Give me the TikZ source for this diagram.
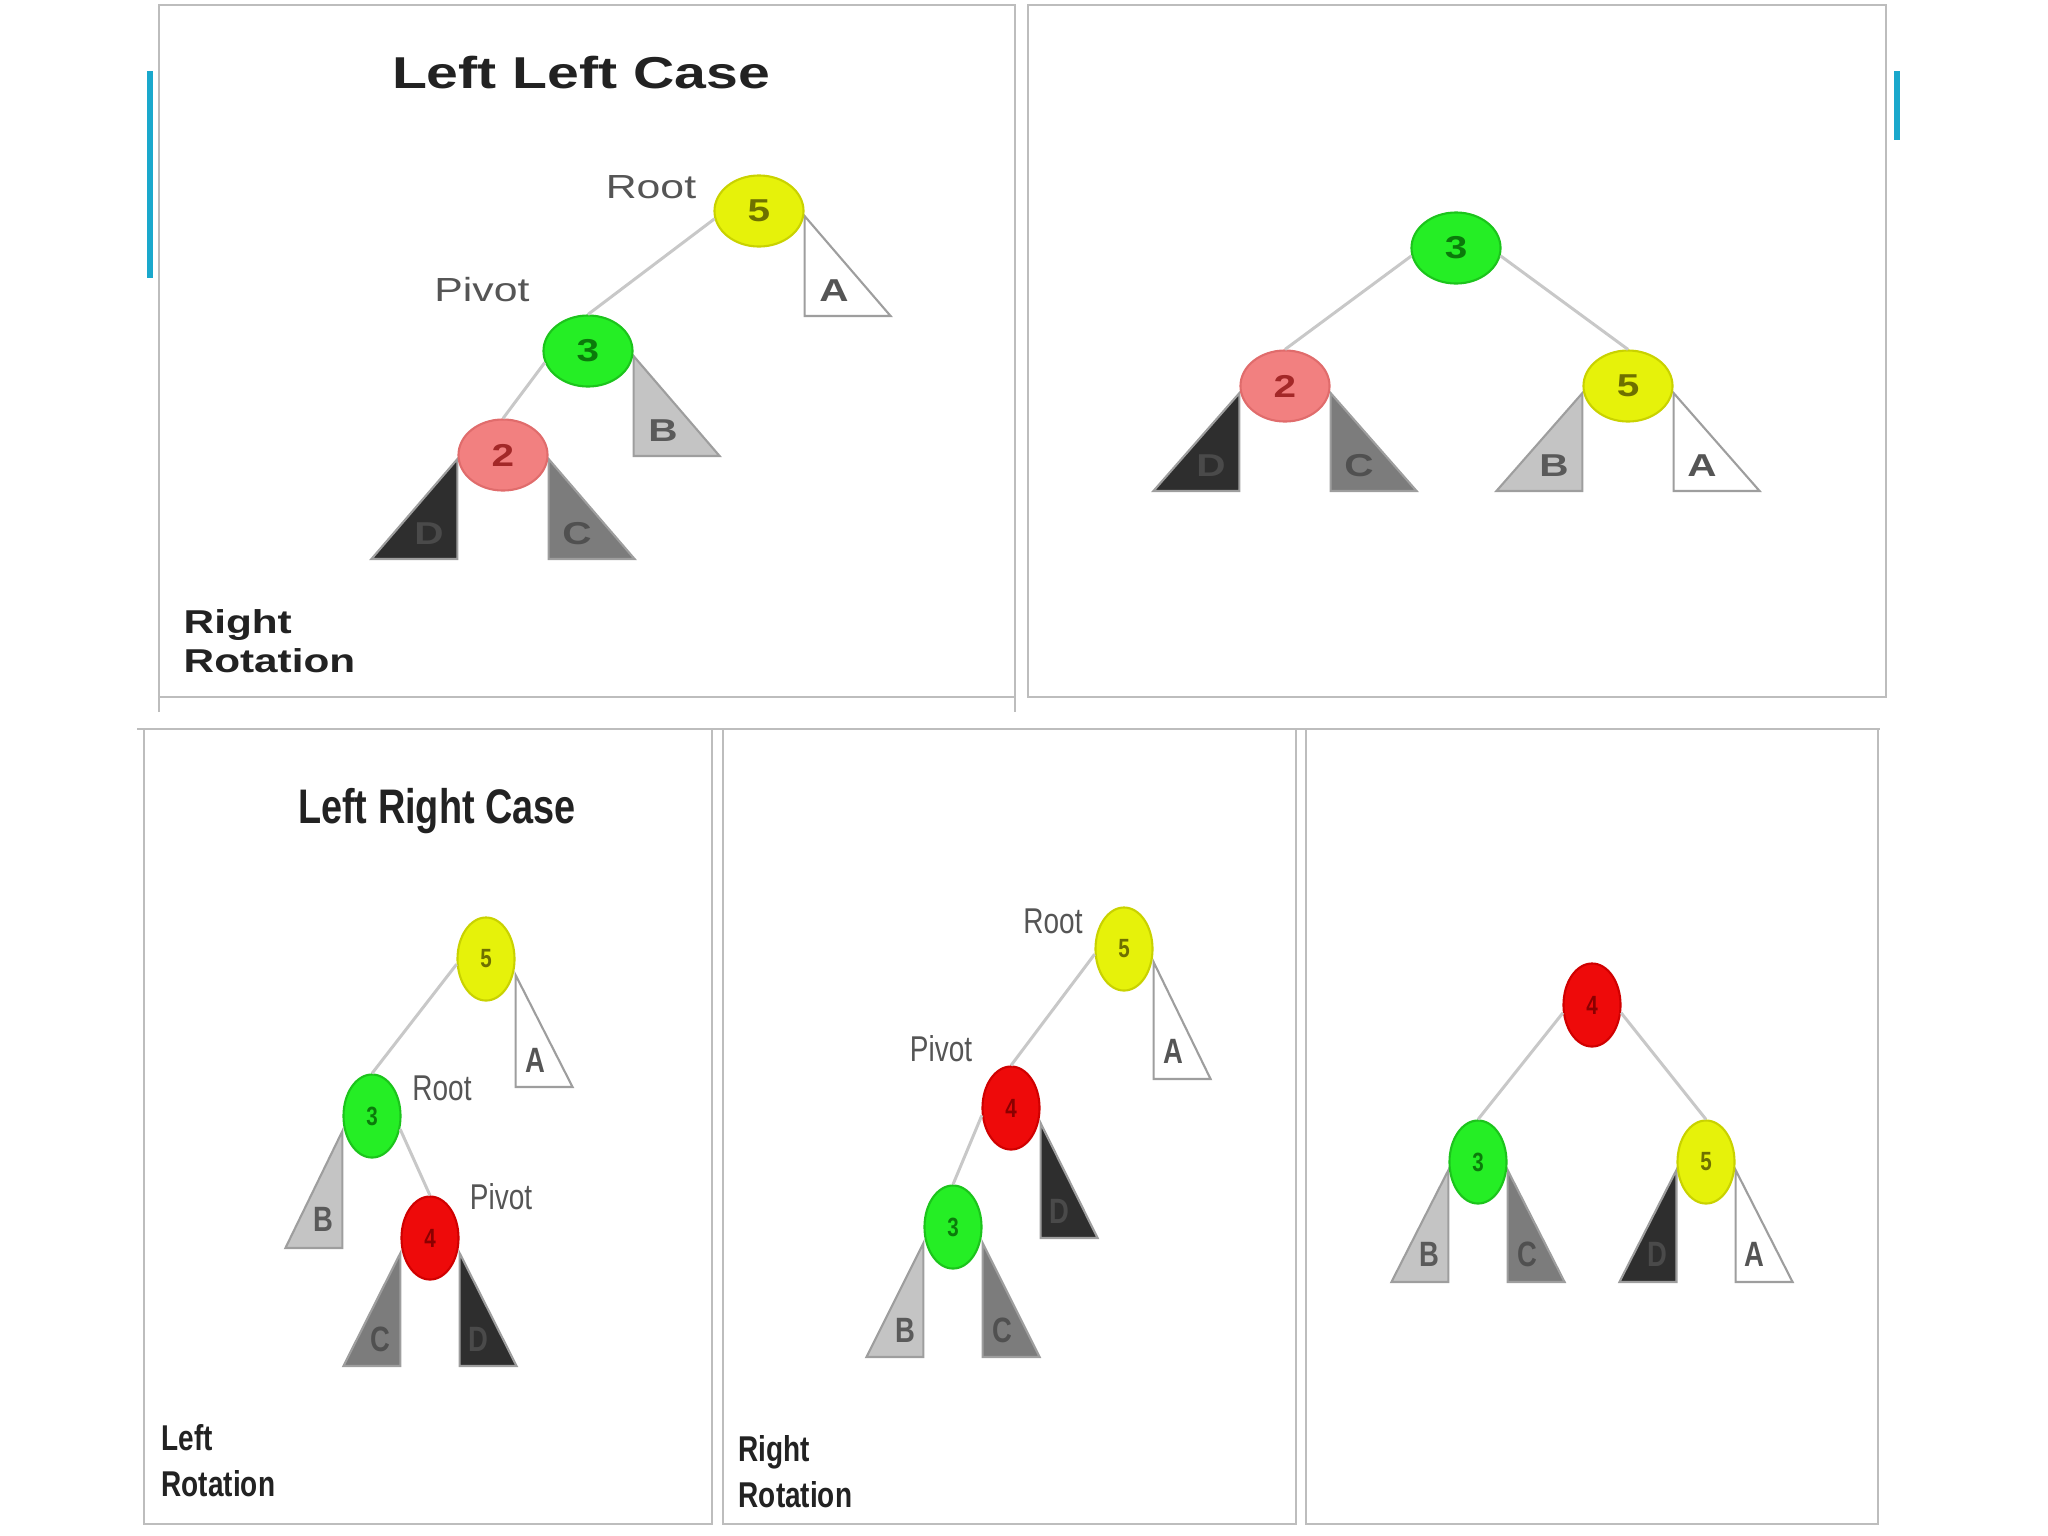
\documentclass[tikz,border=0pt]{standalone}
\usepackage{fontspec}
\setmainfont{Liberation Sans}
\newfontfamily\topsans[FakeStretch=1.28]{Liberation Sans}
\newfontfamily\botsans[FakeStretch=0.78]{Liberation Sans}
\usetikzlibrary{shapes.geometric,backgrounds}
\definecolor{ink}{HTML}{222222}
\definecolor{word}{HTML}{555555}
\definecolor{rim}{HTML}{BDBDBD}
\definecolor{slide}{HTML}{1AA8CC}
\definecolor{edgegray}{HTML}{C8C8C8}
\definecolor{nodeyel}{HTML}{E6F20A}
\definecolor{nodeyelb}{HTML}{C9D200}
\definecolor{nodeyelt}{HTML}{6E7000}
\definecolor{nodegrn}{HTML}{25EE25}
\definecolor{nodegrnb}{HTML}{1CC41C}
\definecolor{nodegrnt}{HTML}{0B7A0B}
\definecolor{nodepnk}{HTML}{F28080}
\definecolor{nodepnkb}{HTML}{E06C6C}
\definecolor{nodepnkt}{HTML}{A32828}
\definecolor{nodered}{HTML}{EE0A0A}
\definecolor{noderedb}{HTML}{D00000}
\definecolor{noderedt}{HTML}{8A0000}
\definecolor{subD}{HTML}{2E2E2E}
\definecolor{subC}{HTML}{7C7C7C}
\definecolor{subB}{HTML}{C4C4C4}
\definecolor{subrim}{HTML}{9E9E9E}
\definecolor{letD}{HTML}{4A4A4A}
\definecolor{letC}{HTML}{505050}
\definecolor{letB}{HTML}{5A5A5A}
\definecolor{letA}{HTML}{555555}

\begin{document}
\begin{tikzpicture}[x=0.01cm,y=-0.01cm,
    panel/.style={draw=rim,line width=0.8pt},
    rail/.style={draw=slide,line width=1.7pt},
    tnode/.style={ellipse,minimum width=0.89cm,minimum height=0.71cm,inner sep=0pt,line width=0.6pt,font=\topsans\bfseries\fontsize{9}{9}\selectfont},
    bnode/.style={ellipse,minimum width=0.57cm,minimum height=0.83cm,inner sep=0pt,line width=0.6pt,font=\botsans\bfseries\fontsize{7.5}{8}\selectfont},
    five/.style={fill=nodeyel,draw=nodeyelb,text=nodeyelt},
    three/.style={fill=nodegrn,draw=nodegrnb,text=nodegrnt},
    two/.style={fill=nodepnk,draw=nodepnkb,text=nodepnkt},
    four/.style={fill=nodered,draw=noderedb,text=noderedt},
    link/.style={draw=edgegray,line width=0.85pt},
    sub/.style={draw=subrim,line width=0.6pt},
    tlet/.style={inner sep=0pt,font=\topsans\bfseries\fontsize{9}{9}\selectfont},
    blet/.style={inner sep=0pt,font=\botsans\bfseries\fontsize{10}{10}\selectfont},
    ttag/.style={inner sep=0pt,text=word,font=\topsans\fontsize{9.5}{11}\selectfont},
    btag/.style={inner sep=0pt,text=word,font=\botsans\fontsize{10.2}{12}\selectfont},
    ttitle/.style={inner sep=0pt,text=ink,font=\topsans\bfseries\fontsize{12.7}{15}\selectfont},
    btitle/.style={inner sep=0pt,text=ink,font=\botsans\bfseries\fontsize{13.8}{16}\selectfont},
    trot/.style={inner sep=0pt,anchor=west,align=left,text=ink,font=\topsans\bfseries\fontsize{9.4}{11.1}\selectfont},
    brot/.style={inner sep=0pt,anchor=west,align=left,text=ink,font=\botsans\bfseries\fontsize{10.2}{13}\selectfont}]
  \useasboundingbox (0,0) rectangle (2048,1536);

  % frames
  \draw[panel] (159,712) -- (159,5) -- (1015,5) -- (1015,712) (159,697) -- (1015,697);
  \draw[panel] (1028,5) rectangle (1886,697);
  \draw[panel] (137,729) -- (1880,729);
  \draw[panel] (144,729) rectangle (712,1524);
  \draw[panel] (723,729) rectangle (1296,1524);
  \draw[panel] (1306,729) rectangle (1878,1524);
  \draw[rail] (150,71) -- (150,278);
  \draw[rail] (1897,71) -- (1897,140);

  % Left Left Case
  \node[ttitle] (aTitle) at (581,73) {Left Left Case};
  \node[tnode,five] (a5) at (759,211) {5};
  \node[tnode,three] (a3) at (588,351) {3};
  \node[tnode,two] (a2) at (503,455) {2};
  \node[ttag] (aRoot) at (651,187) {Root};
  \node[ttag] (aPivot) at (482,290) {Pivot};
  \draw[link] (a5.190) -- (a3.north);
  \draw[link] (a3.195) -- (a2.north);
  \begin{scope}[on background layer]
    \draw[sub,fill=white] (a5.east) ++(0,5) -- ++(0,100) -- ++(86,0) -- cycle;
    \draw[sub,fill=subB] (a3.east) ++(0,5) -- ++(0,100) -- ++(86,0) -- cycle;
    \draw[sub,fill=subD] (a2.west) ++(0,4) -- ++(0,100) -- ++(-86,0) -- cycle;
    \draw[sub,fill=subC] (a2.east) ++(0,4) -- ++(0,100) -- ++(86,0) -- cycle;
  \end{scope}
  \node[tlet,text=letA] (aA) at (834,291) {A};
  \node[tlet,text=letB] (aB) at (663,431) {B};
  \node[tlet,text=letD] (aD) at (429,534) {D};
  \node[tlet,text=letC] (aC) at (577,534) {C};
  \node[trot] (aRot) at (183,641) {Right\\Rotation};

  % after right rotation
  \node[tnode,three] (b3) at (1456,248) {3};
  \node[tnode,two] (b2) at (1285,386) {2};
  \node[tnode,five] (b5) at (1628,386) {5};
  \draw[link] (b3.190) -- (b2.north);
  \draw[link] (b3.350) -- (b5.north);
  \begin{scope}[on background layer]
    \draw[sub,fill=subD] (b2.west) ++(0,7) -- ++(0,98) -- ++(-86,0) -- cycle;
    \draw[sub,fill=subC] (b2.east) ++(0,7) -- ++(0,98) -- ++(86,0) -- cycle;
    \draw[sub,fill=subB] (b5.west) ++(0,7) -- ++(0,98) -- ++(-86,0) -- cycle;
    \draw[sub,fill=white] (b5.east) ++(0,7) -- ++(0,98) -- ++(86,0) -- cycle;
  \end{scope}
  \node[tlet,text=letD] (bD) at (1211,466) {D};
  \node[tlet,text=letC] (bC) at (1359,466) {C};
  \node[tlet,text=letB] (bB) at (1554,466) {B};
  \node[tlet,text=letA] (bA) at (1702,466) {A};

  % Left Right Case
  \node[btitle] (cTitle) at (437,811) {Left Right Case};
  \node[bnode,five] (c5) at (486,959) {5};
  \node[bnode,three] (c3) at (372,1116) {3};
  \node[bnode,four] (c4) at (430,1238) {4};
  \node[btag] (cRoot) at (442,1088) {Root};
  \node[btag] (cPivot) at (501,1197) {Pivot};
  \draw[link] (c5.190) -- (c3.north);
  \draw[link] (c3.335) -- (c4.north);
  \begin{scope}[on background layer]
    \draw[sub,fill=white] (c5.east) ++(0,16) -- ++(0,112) -- ++(57,0) -- cycle;
    \draw[sub,fill=subB] (c3.west) ++(0,15) -- ++(0,117) -- ++(-57,0) -- cycle;
    \draw[sub,fill=subC] (c4.west) ++(0,15) -- ++(0,113) -- ++(-57,0) -- cycle;
    \draw[sub,fill=subD] (c4.east) ++(0,15) -- ++(0,113) -- ++(57,0) -- cycle;
  \end{scope}
  \node[blet,text=letA] (cA) at (535,1060) {A};
  \node[blet,text=letB] (cB) at (323,1219) {B};
  \node[blet,text=letC] (cC) at (380,1339) {C};
  \node[blet,text=letD] (cD) at (478,1339) {D};
  \node[brot] (cRot) at (161,1461) {Left\\Rotation};

  % after left rotation
  \node[bnode,five] (d5) at (1124,949) {5};
  \node[bnode,four] (d4) at (1011,1108) {4};
  \node[bnode,three] (d3) at (953,1227) {3};
  \node[btag] (dRoot) at (1053,921) {Root};
  \node[btag] (dPivot) at (941,1049) {Pivot};
  \draw[link] (d5.190) -- (d4.north);
  \draw[link] (d4.194) -- (d3.north);
  \begin{scope}[on background layer]
    \draw[sub,fill=white] (d5.east) ++(0,13) -- ++(0,117) -- ++(57,0) -- cycle;
    \draw[sub,fill=subD] (d4.east) ++(0,15) -- ++(0,115) -- ++(57,0) -- cycle;
    \draw[sub,fill=subB] (d3.west) ++(0,16) -- ++(0,114) -- ++(-57,0) -- cycle;
    \draw[sub,fill=subC] (d3.east) ++(0,16) -- ++(0,114) -- ++(57,0) -- cycle;
  \end{scope}
  \node[blet,text=letA] (dA) at (1173,1051) {A};
  \node[blet,text=letD] (dD) at (1059,1211) {D};
  \node[blet,text=letB] (dB) at (905,1330) {B};
  \node[blet,text=letC] (dC) at (1002,1330) {C};
  \node[brot] (dRot) at (738,1472) {Right\\Rotation};

  % balanced
  \node[bnode,four] (e4) at (1592,1005) {4};
  \node[bnode,three] (e3) at (1478,1162) {3};
  \node[bnode,five] (e5) at (1706,1162) {5};
  \draw[link] (e4.195) -- (e3.north);
  \draw[link] (e4.345) -- (e5.north);
  \begin{scope}[on background layer]
    \draw[sub,fill=subB] (e3.west) ++(0,8) -- ++(0,112) -- ++(-57,0) -- cycle;
    \draw[sub,fill=subC] (e3.east) ++(0,8) -- ++(0,112) -- ++(57,0) -- cycle;
    \draw[sub,fill=subD] (e5.west) ++(0,8) -- ++(0,112) -- ++(-57,0) -- cycle;
    \draw[sub,fill=white] (e5.east) ++(0,8) -- ++(0,112) -- ++(57,0) -- cycle;
  \end{scope}
  \node[blet,text=letB] (eB) at (1429,1254) {B};
  \node[blet,text=letC] (eC) at (1527,1254) {C};
  \node[blet,text=letD] (eD) at (1657,1254) {D};
  \node[blet,text=letA] (eA) at (1754,1254) {A};
\end{tikzpicture}
\end{document}
